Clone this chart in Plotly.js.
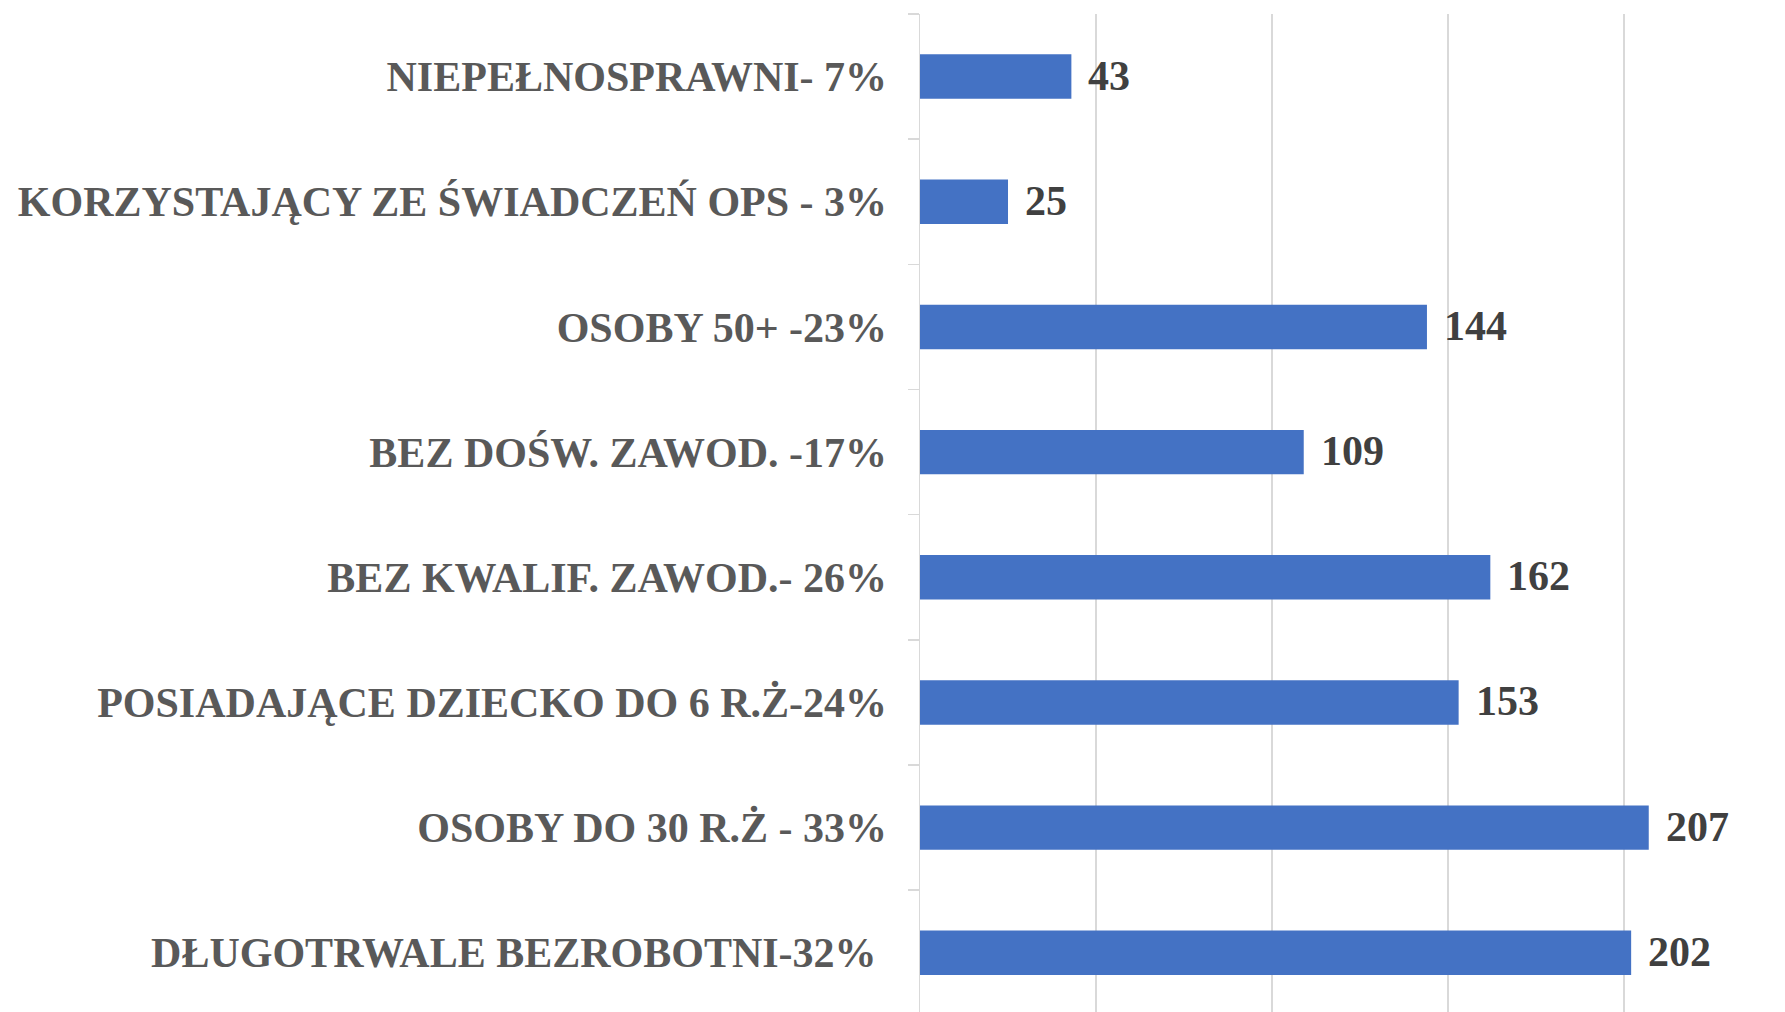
<!DOCTYPE html>
<html>
<head>
<meta charset="utf-8">
<script src="https://cdn.plot.ly/plotly-3.0.1.min.js"></script>
<style>html,body{margin:0;padding:0;background:#fff;}#chart{width:1785px;height:1012px;}</style>
</head>
<body>
<div id="chart"></div>
<script>
// Categories listed bottom to top
const categories = [
  "DŁUGOTRWALE BEZROBOTNI-32%\u00a0",
  "OSOBY DO 30 R.Ż - 33%",
  "POSIADAJĄCE DZIECKO DO 6 R.Ż-24%",
  "BEZ KWALIF. ZAWOD.- 26%",
  "BEZ DOŚW. ZAWOD. -17%",
  "OSOBY 50+ -23%",
  "KORZYSTAJĄCY ZE ŚWIADCZEŃ OPS - 3%",
  "NIEPEŁNOSPRAWNI- 7%"
];
const values = [202, 207, 153, 162, 109, 144, 25, 43];
const gridTicks = [0, 50, 100, 150, 200];

const serif = "'Liberation Serif', 'DejaVu Serif', serif";

const trace = {
  type: 'bar',
  orientation: 'h',
  x: values,
  y: categories,
  width: 0.355,
  marker: {color: '#4472C4'},
  hoverinfo: 'none'
};

const annotations = values.map((v, i) => ({
  x: v, y: categories[i], xref: 'x', yref: 'y',
  text: String(v), showarrow: false, xanchor: 'left', yanchor: 'middle',
  xshift: 15, yshift: 1,
  font: {family: serif, size: 42, color: '#404040', weight: 'bold'}
}));

const layout = {
  width: 1785, height: 1012,
  margin: {l: 920, r: 0, t: 14, b: 0},
  paper_bgcolor: '#ffffff', plot_bgcolor: '#ffffff',
  showlegend: false,
  xaxis: {
    range: [0, 245.7],
    tickvals: gridTicks,
    showticklabels: false,
    showgrid: true, gridcolor: '#D9D9D9', gridwidth: 1.5,
    zeroline: false, showline: false, ticks: ''
  },
  yaxis: {
    type: 'category',
    categoryorder: 'array', categoryarray: categories,
    range: [-0.473, 7.5],
    showline: true, linecolor: '#D9D9D9', linewidth: 1.5,
    ticks: 'outside', tickson: 'boundaries', ticklen: 11, tickcolor: '#D9D9D9', tickwidth: 1.5,
    showgrid: false, zeroline: false,
    ticklabelstandoff: 23,
    tickfont: {family: serif, size: 42, color: '#595959', weight: 'bold'}
  },
  annotations: annotations
};

Plotly.newPlot('chart', [trace], layout, {staticPlot: true, displayModeBar: false});
</script>
</body>
</html>
